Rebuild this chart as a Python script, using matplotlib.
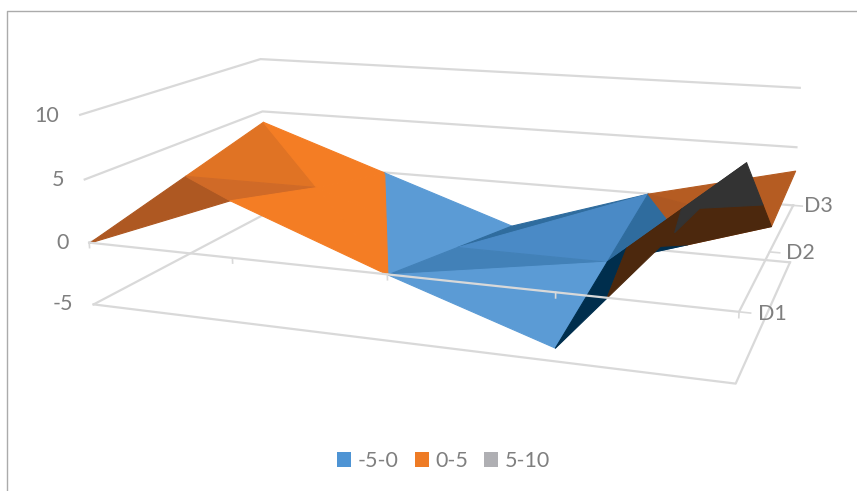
import numpy as np
import matplotlib
matplotlib.use("Agg")
import matplotlib.pyplot as plt
from matplotlib.lines import Line2D
from matplotlib.patches import Patch
from mpl_toolkits.mplot3d.art3d import Poly3DCollection

plt.rcParams['font.family'] = ['Lato', 'DejaVu Sans']

# Surface values, one row per depth series
series_names = ['D1', 'D2', 'D3']
d1_values = [0, 4.4, 0, -4, 10]
d2_values = [2, 2, -2, -2, 2]
d3_values = [4, 0, -4, 0, 3]
z_ticks = [-5, 0, 5, 10]
band_names = ['-5-0', '0-5', '5-10']
band_limits = [(-5, 0), (0, 5), (5, 10)]
legend_colors = ['#4E94D4', '#EE7B25', '#AFAFB3']

z_grid = np.array([d1_values, d2_values, d3_values], dtype=float)
n_x = z_grid.shape[1]
n_y = z_grid.shape[0]

# Face colours per band, from lit top faces to dark undersides
shades = {
    'top': ['#5B9BD5', '#F47D24', '#A5A5A5'],
    'back': ['#4A8AC6', '#E07324', '#A5A5A5'],
    'front': ['#4281B8', '#D06A27', '#A5A5A5'],
    'slope': ['#2F6C9E', '#AE5822', '#A5A5A5'],
    'side': ['#2F6C9E', '#B55C22', '#A5A5A5'],
    'under': ['#002E4D', '#4C280D', '#333333'],
}

# Triangles as (x, depth) grid nodes, listed back to front
triangles = [
    ((0, 1), (0, 2), (1, 1), 'back'),
    ((0, 2), (1, 1), (1, 2), 'top'),
    ((1, 1), (1, 2), (2, 1), 'top'),
    ((1, 2), (2, 1), (2, 2), 'top'),
    ((2, 1), (2, 2), (3, 2), 'slope'),
    ((2, 1), (3, 1), (3, 2), 'back'),
    ((3, 2), (4, 1), (4, 2), 'side'),
    ((3, 1), (3, 2), (4, 1), 'slope'),
    ((0, 0), (0, 1), (1, 0), 'slope'),
    ((0, 1), (1, 0), (1, 1), 'front'),
    ((1, 0), (1, 1), (2, 0), 'top'),
    ((1, 1), (2, 0), (2, 1), 'top'),
    ((2, 0), (2, 1), (3, 1), 'front'),
    ((2, 0), (3, 0), (3, 1), 'top'),
    ((3, 1), (4, 0), (4, 1), 'under'),
    ((3, 0), (4, 0), (3, 1), 'under'),
]


def clip_band(poly, zlo, zhi):
    """ Cut a polygon down to the part between two z levels. """
    for level, sign in [(zlo, 1), (zhi, -1)]:
        out = []
        for k in range(len(poly)):
            a, b = poly[k], poly[(k + 1) % len(poly)]
            da, db = sign * (a[2] - level), sign * (b[2] - level)
            if da >= 0:
                out.append(a)
            if da * db < 0:
                t = da / (da - db)
                out.append(tuple(a[m] + t * (b[m] - a[m]) for m in range(3)))
        poly = out
        if not poly:
            break
    return poly


W, H = 857, 491
fig = plt.figure(figsize=(W / 100, H / 100), dpi=100, facecolor='white')
ax = fig.add_axes([86.61 / W, -72.10 / H, 720.59 / W, 720.59 / H], projection='3d')
ax.computed_zorder = False
ax.set_xlim(0, n_x - 1, view_margin=0)
ax.set_ylim(0, n_y - 1, view_margin=0)
ax.set_zlim(z_ticks[0], z_ticks[-1], view_margin=0)
ax.view_init(14.154, -70.047, 0.258)
ax.set_proj_type('persp', focal_length=0.3604)
ax.set_box_aspect((4.127, 2.411, 1.247))
ax.set_xticks([])
ax.set_yticks([])
ax.set_zticks([])
for axis in (ax.xaxis, ax.yaxis, ax.zaxis):
    axis.label.set_visible(False)
    axis.offsetText.set_visible(False)
ax.set_axis_off()

grid_color = '#D9D9D9'
text_color = '#7F7F7F'
font_size = 15.5
xmax, ymax = n_x - 1, n_y - 1

# Wall gridlines
for z in z_ticks:
    ax.plot([0, 0, xmax], [0, ymax, ymax], [z, z, z], color=grid_color, lw=1.6,
            clip_on=False, zorder=1)
    ax.text(-0.15, 0, z - 0.17, str(z), ha='right', va='center', fontsize=font_size,
            color=text_color, zorder=60)

# Floor edges
ax.plot([0, xmax, xmax], [0, 0, ymax], [z_ticks[0]] * 3, color=grid_color, lw=1.6,
        clip_on=False, zorder=1)

# Surface, split into the legend bands
order = 2
for n0, n1, n2, shade in triangles:
    tri = [(i, j, z_grid[j, i]) for i, j in (n0, n1, n2)]
    for b, (zlo, zhi) in enumerate(band_limits):
        part = clip_band(tri, zlo, zhi)
        if len(part) < 3:
            continue
        color = shades[shade][b]
        poly = Poly3DCollection([part], facecolors=color, edgecolors=color, linewidths=0.8,
                                zorder=order, clip_on=False)
        ax.add_collection3d(poly)
        order += 1

# Category and depth axes at zero
ax.plot([0, xmax, xmax], [0, 0, ymax], [0, 0, 0], color=grid_color, lw=1.6,
        clip_on=False, zorder=50)
for i in range(n_x):
    ax.plot([i, i], [0, 0], [0, -0.4], color=grid_color, lw=1.2, clip_on=False, zorder=50)
label_offsets = [0.1, 0.1, 0.07]
for j in range(n_y):
    ax.plot([xmax, xmax + 0.06], [j, j], [0, 0], color=grid_color, lw=1.2, clip_on=False, zorder=50)
    ax.text(xmax + label_offsets[j], j, 0, series_names[j], ha='left', va='center',
            fontsize=font_size, color=text_color, zorder=60)

# Chart border, left and top only
fig.add_artist(Line2D([6.5 / W, 6.5 / W, 1], [0, 1 - 10.5 / H, 1 - 10.5 / H],
                      color='#ABABAB', lw=1))

handles = [Patch(facecolor=c, edgecolor='none') for c in legend_colors]
fig.legend(handles, band_names, loc='center', bbox_to_anchor=(443.5 / W, 1 - 461 / H), ncol=3,
           frameon=False, fontsize=font_size, labelcolor=text_color, handlelength=0.65,
           handleheight=0.65, handletextpad=0.3, columnspacing=0.75)

fig.savefig('out.png', dpi=100)
